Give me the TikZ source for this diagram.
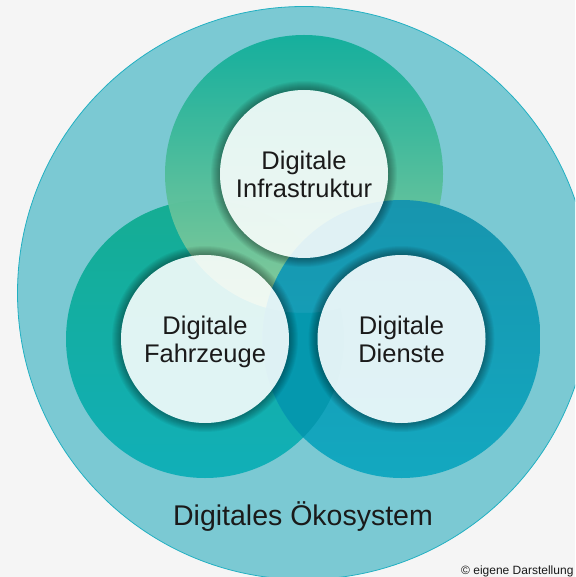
\documentclass[tikz,border=0pt]{standalone}
\usepackage{fontspec}
\setmainfont{Liberation Sans}
\definecolor{bgc}{HTML}{F5F5F5}
\definecolor{ecoc}{HTML}{7BC9D3}
\definecolor{ecoline}{HTML}{22B0C2}
\definecolor{leftT}{HTML}{15AD93}
\definecolor{leftB}{HTML}{11AFB8}
\definecolor{topT}{HTML}{12AF9C}
\definecolor{topB}{HTML}{8FCC9A}
\definecolor{rightT}{HTML}{1795AE}
\definecolor{rightB}{HTML}{13A8C0}
\definecolor{lensc}{HTML}{0598AE}
\definecolor{txt}{HTML}{1A1A1A}
\begin{document}
\begin{tikzpicture}[x=1pt,y=-1pt,
  core/.style={circle, minimum size=168pt, inner sep=0pt, fill=white, fill opacity=0.87, text opacity=1,
    text=txt, align=center, text depth=0pt, font=\fontsize{25.5}{28}\selectfont},
  glowring/.style={black, opacity=0.045, even odd rule}]
\useasboundingbox (0,0) rectangle (575,577);
\clip (0,0) rectangle (575,577);
\fill[bgc] (0,0) rectangle (575,577);
\coordinate (cE) at (304,293);
\coordinate (cI) at (304,174);
\coordinate (cL) at (205,339);
\coordinate (cR) at (401.5,339);
% ecosystem circle
\fill[ecoc] (cE) circle[radius=286.5pt];
\draw[ecoline, line width=0.8pt] (cE) circle[radius=286.5pt];
% rings
\shade[top color=leftT, bottom color=leftB] (cL) circle[radius=139pt];
\shade[top color=topT, bottom color=topB, opacity=0.97] (cI) circle[radius=139pt];
\shade[top color=rightT, bottom color=rightB] (cR) circle[radius=139pt];
\begin{scope}
  \clip (cL) circle[radius=139pt];
  \clip (cR) circle[radius=139pt];
  \fill[lensc, even odd rule] (0,0) rectangle (575,577) (cI) circle[radius=139pt];
\end{scope}
% glows
\foreach \c in {cI,cL,cR}{
  \foreach \r in {1,...,9}{
    \fill[glowring] (\c) circle[radius={(84+\r)*1pt}] (\c) circle[radius=84pt];
  }
}
% cores
\node[core] (infra) at (cI) {Digitale\\Infrastruktur};
\node[core] (fahr) at (cL) {Digitale\\Fahrzeuge};
\node[core] (dienst) at (cR) {Digitale\\Dienste};
\node[text=txt, font=\fontsize{28.5}{30}\selectfont, anchor=base] (eco) at (303,525) {Digitales Ökosystem};
\node[text=txt, font=\fontsize{12}{14}\selectfont, anchor=base west, inner sep=0pt] (copy) at (461,574.5) {© eigene Darstellung};
\end{tikzpicture}
\end{document}
